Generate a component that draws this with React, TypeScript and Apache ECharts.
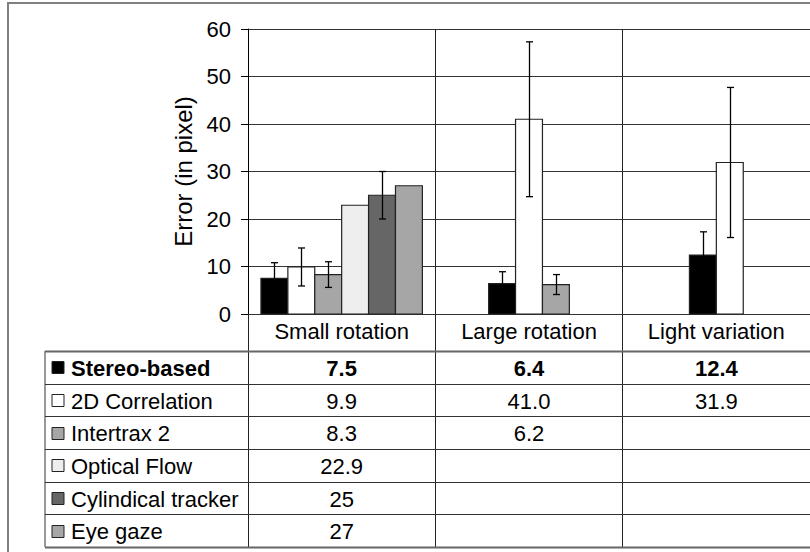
import React, { useEffect, useRef } from "react";
import * as echarts from "echarts";

// ---- data ----
const categories = ["Small rotation", "Large rotation", "Light variation"];
const methods = ["Stereo-based", "2D Correlation", "Intertrax 2", "Optical Flow", "Cylindical tracker", "Eye gaze"];

const stereoValues = [7.5, 6.4, 12.4];
const correlationValues = [9.9, 41.0, 31.9];
const intertraxValues = [8.3, 6.2, null];
const opticalFlowValues = [22.9, null, null];
const cylindricalValues = [25, null, null];
const eyeGazeValues = [27, null, null];

const stereoErrors = [3.3, 2.5, 4.9];
const correlationErrors = [4.0, 16.3, 15.8];
const intertraxErrors = [2.7, 2.1, null];
const opticalFlowErrors = [null, null, null];
const cylindricalErrors = [5.0, null, null];
const eyeGazeErrors = [null, null, null];

const valueDecimals = [1, 1, 1, 1, 0, 0];

const yMin = 0;
const yMax = 60;
const yInterval = 10;

// ---- styles ----
const FONT = "'Liberation Sans', Arial, sans-serif";
const methodColors = ["#000000", "#ffffff", "#a6a6a6", "#eeeeee", "#666666", "#a6a6a6"];
const boldRows = [true, false, false, false, false, false];

const allValues = [stereoValues, correlationValues, intertraxValues, opticalFlowValues, cylindricalValues, eyeGazeValues];
const allErrors = [stereoErrors, correlationErrors, intertraxErrors, opticalFlowErrors, cylindricalErrors, eyeGazeErrors];

// which methods have a value in each category (bars are centred per category)
const presentByCat = categories.map((_, c) =>
  methods.map((_, m) => m).filter((m) => allValues[m][c] !== null && allValues[m][c] !== undefined)
);

const GRID_LEFT = 248;
const GRID_TOP = 29;
const GRID_W = 564;
const GRID_H = 285;
const BAR_FRACTION = 27 / 188;
const TABLE_TOP = 351;
const TABLE_BOTTOM = 547;
const TABLE_LEFT = 45;
const ROW_H = (TABLE_BOTTOM - TABLE_TOP) / methods.length;

function makeRenderItem(methodIdx: number) {
  return (params: any, api: any) => {
    const cat = api.value(0);
    const val = api.value(1);
    const err = api.value(2);
    const base = api.coord([cat, 0]);
    const top = api.coord([cat, val]);
    const band = api.size([1, 0])[0];
    const barW = band * BAR_FRACTION;
    const present = presentByCat[cat];
    const k = present.indexOf(methodIdx);
    const n = present.length;
    const x0 = base[0] - (n * barW) / 2 + k * barW;
    const children: any[] = [
      {
        type: "rect",
        shape: { x: x0, y: top[1], width: barW, height: base[1] - top[1] },
        style: { fill: methodColors[methodIdx], stroke: "#222", lineWidth: 1.2 },
      },
    ];
    if (err) {
      const hi = api.coord([cat, val + err])[1];
      const lo = api.coord([cat, val - err])[1];
      const cx = Math.round(x0 + barW / 2) + 0.5;
      const st = { stroke: "#000", lineWidth: 1.3 };
      children.push(
        { type: "line", shape: { x1: cx, y1: hi, x2: cx, y2: lo }, style: st },
        { type: "line", shape: { x1: cx - 3.5, y1: hi, x2: cx + 3.5, y2: hi }, style: st },
        { type: "line", shape: { x1: cx - 3.5, y1: lo, x2: cx + 3.5, y2: lo }, style: st }
      );
    }
    return { type: "group", children };
  };
}

export default function App() {
  const ref = useRef<HTMLDivElement>(null);
  useEffect(() => {
    if (!ref.current) return;
    const chart = echarts.init(ref.current, null, { renderer: "svg" });
    const series = methods.map((name, m) => ({
      type: "custom",
      name,
      renderItem: makeRenderItem(m),
      encode: { x: 0, y: 1 },
      data: allValues[m]
        .map((v, c) => (v === null ? null : [c, v, allErrors[m][c] ?? 0]))
        .filter((d) => d !== null),
      z: 3,
    }));
    chart.setOption({
      animation: false,
      backgroundColor: "#ffffff",
      textStyle: { fontFamily: FONT },
      grid: { left: GRID_LEFT, top: GRID_TOP, width: GRID_W, height: GRID_H, containLabel: false },
      xAxis: {
        type: "category",
        data: categories,
        boundaryGap: true,
        axisLine: { show: true, lineStyle: { color: "#333", width: 1 } },
        axisTick: { show: true, inside: false, length: TABLE_BOTTOM - GRID_TOP - GRID_H, lineStyle: { color: "#222", width: 1 } },
        splitLine: { show: true, lineStyle: { color: "#222", width: 1 } },
        axisLabel: { color: "#000", fontSize: 22, fontFamily: FONT, margin: 6 },
      },
      yAxis: {
        type: "value",
        min: yMin,
        max: yMax,
        interval: yInterval,
        name: "Error (in pixel)",
        nameLocation: "middle",
        nameGap: 50,
        nameTextStyle: { color: "#000", fontSize: 24, fontFamily: FONT },
        axisLine: { show: true, lineStyle: { color: "#000", width: 1 } },
        axisTick: { show: true, inside: false, length: 7, lineStyle: { color: "#000" } },
        splitLine: { show: true, lineStyle: { color: "#333", width: 1 } },
        axisLabel: { color: "#000", fontSize: 22, fontFamily: FONT, margin: 17 },
      },
      series,
    });

    // data table under the plot, drawn from the same arrays
    const colX = categories.map((_, c) => chart.convertToPixel({ xAxisIndex: 0 }, c) as number);
    const right = GRID_LEFT + GRID_W;
    const g: any[] = [
      {
        type: "rect",
        shape: { x: 8, y: 3, width: 900, height: 700 },
        style: { fill: "none", stroke: "#808080", lineWidth: 2 },
        z: 10,
      },
      {
        type: "line",
        shape: { x1: TABLE_LEFT, y1: TABLE_TOP, x2: TABLE_LEFT, y2: TABLE_BOTTOM },
        style: { stroke: "#333", lineWidth: 1 },
        z: 10,
      },
    ];
    for (let r = 0; r <= methods.length; r++) {
      const y = Math.round(TABLE_TOP + r * ROW_H) + 0.5;
      const edge = r === 0 || r === methods.length;
      g.push({
        type: "line",
        shape: { x1: TABLE_LEFT, y1: y, x2: right, y2: y },
        style: { stroke: edge ? "#666" : "#333", lineWidth: edge ? 2 : 1 },
        z: 10,
      });
    }
    methods.forEach((name, m) => {
      const cy = TABLE_TOP + (m + 0.5) * ROW_H;
      const weight = boldRows[m] ? "bold" : "normal";
      g.push({
        type: "rect",
        shape: { x: 52, y: Math.round(cy - 6) + 0.5, width: 12, height: 12 },
        style: { fill: methodColors[m], stroke: "#222", lineWidth: 1 },
        z: 10,
      });
      g.push({
        type: "text",
        x: 71,
        y: cy + 1,
        style: { text: name, fontSize: 22, fontFamily: FONT, fontWeight: weight, fill: "#000", align: "left", verticalAlign: "middle" },
        z: 10,
      });
      categories.forEach((_, c) => {
        const v = allValues[m][c];
        if (v === null || v === undefined) return;
        g.push({
          type: "text",
          x: colX[c],
          y: cy + 1,
          style: {
            text: v.toFixed(valueDecimals[m]),
            fontSize: 22,
            fontFamily: FONT,
            fontWeight: weight,
            fill: "#000",
            align: "center",
            verticalAlign: "middle",
          },
          z: 10,
        });
      });
    });
    chart.setOption({ graphic: g });
    return () => chart.dispose();
  }, []);
  return <div ref={ref} style={{ position: "absolute", left: 0, top: 0, width: 810, height: 552 }} />;
}
